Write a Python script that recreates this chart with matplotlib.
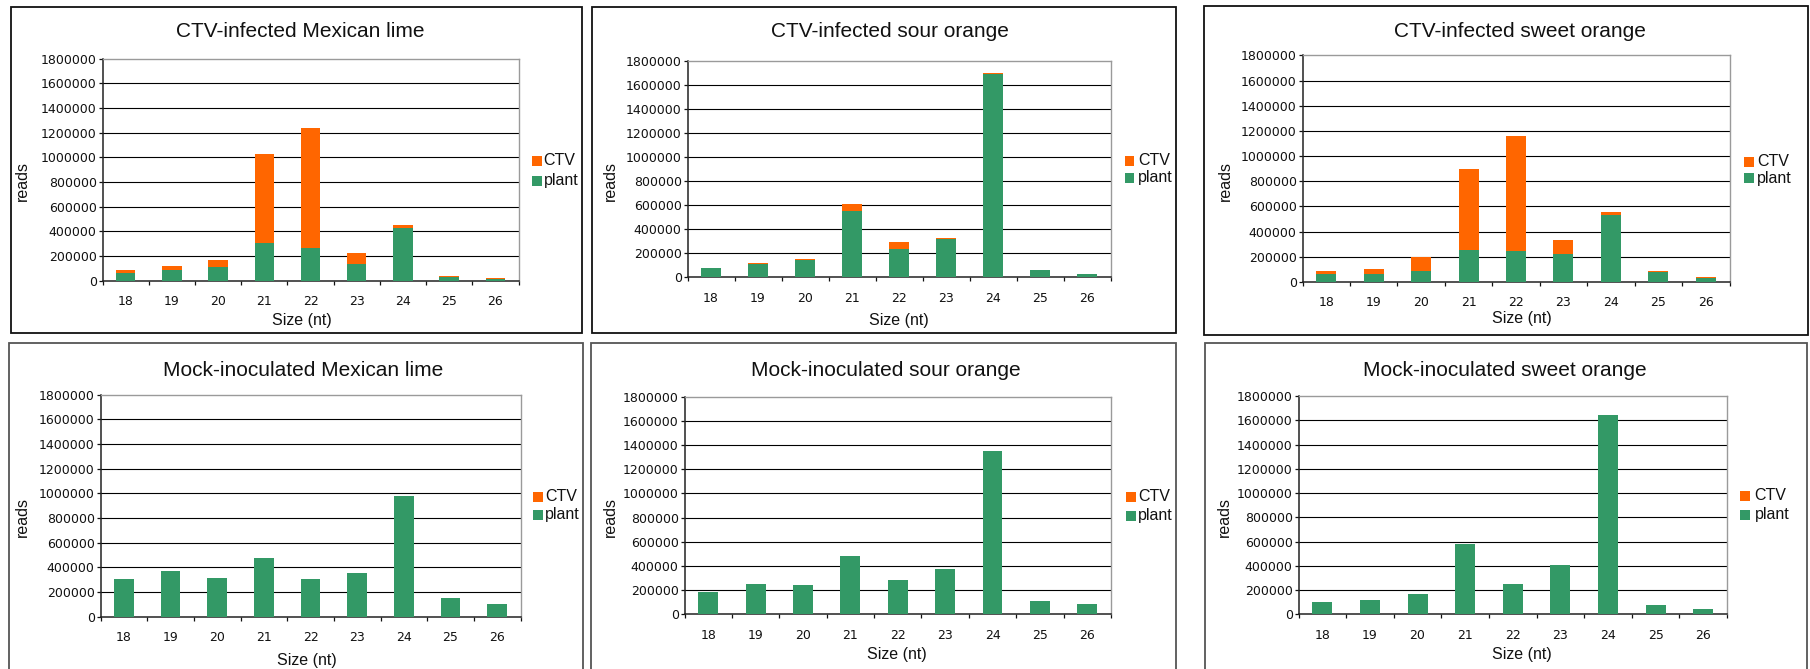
import matplotlib
matplotlib.use("Agg")
import matplotlib.pyplot as plt
from matplotlib.patches import Rectangle
import numpy as np

# ---- data -------------------------------------------------------------
sizes = [18, 19, 20, 21, 22, 23, 24, 25, 26]
y_ticks = [0, 200000, 400000, 600000, 800000, 1000000, 1200000, 1400000, 1600000, 1800000]
series_names = ["CTV", "plant"]

titles = [
    "CTV-infected Mexican lime",
    "CTV-infected sour orange",
    "CTV-infected sweet orange",
    "Mock-inoculated Mexican lime",
    "Mock-inoculated sour orange",
    "Mock-inoculated sweet orange",
]

plant_ctv_lime = [60000, 84000, 109000, 305000, 264000, 136000, 427000, 27000, 11000]
ctv_ctv_lime = [24000, 33000, 57000, 723000, 974000, 87000, 25000, 8000, 8000]

plant_ctv_sour = [75000, 109000, 142000, 552000, 234000, 315000, 1692000, 59000, 25000]
ctv_ctv_sour = [0, 8000, 9000, 59000, 59000, 11000, 11000, 0, 0]

plant_ctv_sweet = [61000, 61000, 85000, 256000, 245000, 224000, 528000, 77000, 29000]
ctv_ctv_sweet = [24000, 40000, 112000, 644000, 911000, 109000, 29000, 8000, 8000]

plant_mock_lime = [305000, 370000, 314000, 476000, 305000, 354000, 978000, 151000, 103000]
ctv_mock_lime = [0, 0, 0, 0, 0, 0, 0, 0, 0]

plant_mock_sour = [185000, 251000, 243000, 482000, 284000, 375000, 1350000, 110000, 85000]
ctv_mock_sour = [0, 0, 0, 0, 0, 0, 0, 0, 0]

plant_mock_sweet = [102000, 118000, 168000, 580000, 250000, 407000, 1643000, 77000, 44000]
ctv_mock_sweet = [0, 0, 0, 0, 0, 0, 0, 0, 0]

plant_sets = [plant_ctv_lime, plant_ctv_sour, plant_ctv_sweet,
              plant_mock_lime, plant_mock_sour, plant_mock_sweet]
ctv_sets = [ctv_ctv_lime, ctv_ctv_sour, ctv_ctv_sweet,
            ctv_mock_lime, ctv_mock_sour, ctv_mock_sweet]

# ---- style ------------------------------------------------------------
W, H = 1810, 669
GREEN = "#339966"
ORANGE = "#FF6600"
SANS = ["Liberation Sans", "DejaVu Sans"]

# plot-area rectangles in pixels: left, right, top, bottom
plot_px = [
    (102.5, 518.5, 58.5, 280.5),
    (687.5, 1110.5, 61.0, 277.0),
    (1302.5, 1729.5, 55.5, 281.8),
    (100.5, 520.5, 394.7, 616.7),
    (684.5, 1111.0, 396.7, 614.3),
    (1298.5, 1727.0, 396.0, 614.3),
]
# outer chart frames: x0, x1, y0, y1, edge colour
frame_px = [
    (10.5, 582.0, 6.5, 333.0, "#111111"),
    (592.0, 1175.5, 6.5, 333.0, "#111111"),
    (1203.5, 1808.0, 6.0, 335.0, "#111111"),
    (8.5, 582.5, 342.7, 690.0, "#555555"),
    (591.0, 1176.0, 342.7, 690.0, "#555555"),
    (1204.5, 1807.0, 342.7, 690.0, "#555555"),
]
title_px = [(300, 31.7), (890, 31.7), (1520, 31.7),
            (303.5, 370.7), (886, 370.7), (1505, 370.7)]
xlabel_px = [(301.5, 320), (899, 320), (1522, 319),
             (307, 660), (897, 655), (1522, 655)]
ylabel_px = [(22, 181), (610, 181), (1225, 181),
             (22, 516.7), (610, 516.7), (1224.5, 516.7)]
# legend: square left x, text x, CTV centre y, plant centre y
legend_px = [
    (532.0, 543.5, 161.0, 181.0),
    (1124.6, 1138.0, 160.5, 178.0),
    (1744.0, 1757.0, 162.0, 178.5),
    (533.0, 545.0, 496.8, 515.0),
    (1126.0, 1138.0, 496.5, 515.5),
    (1740.0, 1754.5, 496.0, 515.0),
]


def fx(x):
    return x / W


def fy(y):
    return 1 - y / H


fig = plt.figure(figsize=(W / 100, H / 100), dpi=100)
fig.patch.set_facecolor("white")

for i in range(6):
    x0, x1, y0, y1, ec = frame_px[i]
    fig.add_artist(Rectangle((fx(x0), fy(y1)), fx(x1 - x0), (y1 - y0) / H,
                             transform=fig.transFigure, fill=False,
                             ec=ec, lw=1.3, zorder=0))

    l, r, t, b = plot_px[i]
    ax = fig.add_axes([fx(l), fy(b), fx(r - l), (b - t) / H])
    x = np.arange(len(sizes))
    plant = np.array(plant_sets[i])
    ctv = np.array(ctv_sets[i])
    ax.bar(x, plant, width=0.42, color=GREEN, zorder=3, label=series_names[1])
    ax.bar(x, ctv, bottom=plant, width=0.42, color=ORANGE, zorder=3,
           label=series_names[0])

    ax.set_xlim(-0.5, len(sizes) - 0.5)
    ax.set_ylim(y_ticks[0], y_ticks[-1])
    for v in y_ticks[1:-1]:
        ax.axhline(v, color="black", lw=0.8, zorder=1)

    ax.set_yticks(y_ticks)
    ax.set_yticklabels([str(v) for v in y_ticks])
    ax.set_xticks(x)
    ax.set_xticklabels([str(s) for s in sizes])
    ax.set_xticks(np.arange(-0.5, len(sizes), 1.0), minor=True)
    ax.tick_params(axis="x", which="major", length=0, pad=10.5,
                   labelsize=9, colors="#111111")
    ax.tick_params(axis="x", which="minor", length=3, width=0.9,
                   direction="out", color="#111111")
    ax.tick_params(axis="y", length=3, width=0.9, pad=1.2,
                   labelsize=9, colors="#111111")

    for side in ("left", "bottom"):
        ax.spines[side].set_color("#222222")
        ax.spines[side].set_linewidth(1.1)
    for side in ("top", "right"):
        ax.spines[side].set_color("#9a9a9a")
        ax.spines[side].set_linewidth(1.0)

    tx, ty = title_px[i]
    fig.text(fx(tx), fy(ty), titles[i], ha="center", va="center",
             fontsize=15, family=SANS, color="#111111")
    lx, ly = xlabel_px[i]
    fig.text(fx(lx), fy(ly), "Size (nt)", ha="center", va="center",
             fontsize=11.5, family=SANS, color="#111111")
    rx, ry = ylabel_px[i]
    fig.text(fx(rx), fy(ry), "reads", ha="center", va="center",
             rotation=90, fontsize=11.5, family=SANS, color="#111111")

    sx, tx2, cy, py = legend_px[i]
    for (cyy, col, name) in ((cy, ORANGE, series_names[0]), (py, GREEN, series_names[1])):
        fig.add_artist(Rectangle((fx(sx), fy(cyy + 5)), fx(9.5), 10 / H,
                                 transform=fig.transFigure, fc=col, ec="none"))
        fig.text(fx(tx2), fy(cyy), name, ha="left", va="center",
                 fontsize=11.5, family=SANS, color="#111111")

fig.savefig("out.png", dpi=100, facecolor="white")
